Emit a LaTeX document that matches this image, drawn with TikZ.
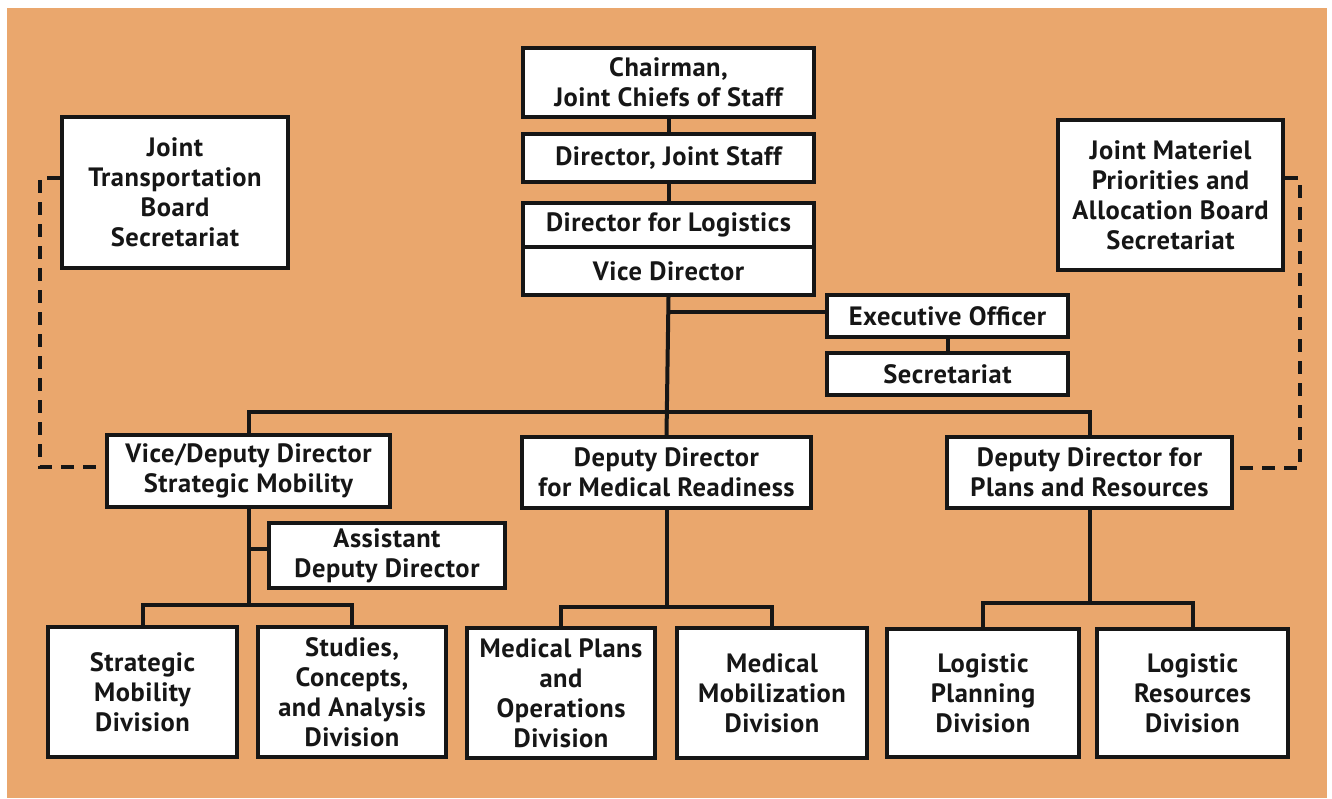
\documentclass[tikz,border=0pt]{standalone}
\usepackage{fontspec}
\setmainfont{PT Sans}[LetterSpace=2]
\usetikzlibrary{calc}
\definecolor{paper}{RGB}{234,167,109}
\definecolor{ink}{RGB}{22,22,22}
\begin{document}
\begin{tikzpicture}[x=1pt,y=-1pt,
  unit/.style={draw=ink, fill=white, line width=3.4pt, rectangle, inner sep=0pt,
    align=center, text=ink, font=\bfseries\fontsize{26.5}{30}\selectfont},
  link/.style={draw=ink, line width=4pt},
  dotted link/.style={draw=ink, line width=3.8pt, dash pattern=on 13pt off 9pt}]
% sheet and tinted panel
\fill[white] (0,0) rectangle (1332,798);
\fill[paper] (7,8) rectangle (1327,798);
\useasboundingbox (0,0) rectangle (1332,798);

% top of the chain
\node[unit, minimum width=291pt, minimum height=69pt] (chair) at (668.5,82.5) {Chairman,\\Joint Chiefs of Staff};
\node[unit, minimum width=291pt, minimum height=48pt] (djs) at (668.5,158) {Director, Joint Staff};
\node[unit, minimum width=291pt, minimum height=44pt] (dl) at (668.5,225) {Director for Logistics};
\node[unit, minimum width=291pt, minimum height=48pt] (vd) at (668.5,271) {Vice Director};

% staff offices
\node[unit, minimum width=241pt, minimum height=42pt] (exec) at (947.5,316) {Executive Officer};
\node[unit, minimum width=241pt, minimum height=42pt] (sec) at (947.5,374) {Secretariat};

% boards
\node[unit, minimum width=226pt, minimum height=151pt] (jtb) at (175,192.5) {Joint\\Transportation\\Board\\Secretariat};
\node[unit, minimum width=225pt, minimum height=150pt] (jmp) at (1170.5,195) {Joint Materiel\\Priorities and\\Allocation Board\\Secretariat};

% deputy directors
\node[unit, minimum width=283pt, minimum height=72pt] (vdsm) at (248.5,471) {Vice/Deputy Director\\Strategic Mobility};
\node[unit, minimum width=289pt, minimum height=71pt] (ddmr) at (666.5,472.5) {Deputy Director\\for Medical Readiness};
\node[unit, minimum width=285pt, minimum height=71pt] (ddpr) at (1089.5,472.5) {Deputy Director for\\Plans and Resources};
\node[unit, minimum width=236pt, minimum height=65pt] (add) at (387,555.5) {Assistant\\Deputy Director};

% divisions
\node[unit, minimum width=189pt, minimum height=130pt] (smd) at (142.5,692) {Strategic\\Mobility\\Division};
\node[unit, minimum width=188pt, minimum height=130pt] (sca) at (352,692) {Studies,\\Concepts,\\and Analysis\\Division};
\node[unit, minimum width=188pt, minimum height=130pt] (mpo) at (561,693) {Medical Plans\\and\\Operations\\Division};
\node[unit, minimum width=190pt, minimum height=130pt] (mmd) at (772,693) {Medical\\Mobilization\\Division};
\node[unit, minimum width=192pt, minimum height=128pt] (lpd) at (983,693) {Logistic\\Planning\\Division};
\node[unit, minimum width=191pt, minimum height=128pt] (lrd) at (1192.5,693) {Logistic\\Resources\\Division};

% command line
\draw[link] (chair.south) -- (djs.north);
\draw[link] (djs.south) -- (dl.north);
\draw[link] (vd.south) -- (ddmr.north);
\draw[link] (vd.south |- 0,312) -- (exec.west |- 0,312);
\draw[link] (exec.south) -- (sec.north);
\draw[link] (vdsm.north) |- (0,412 -| ddmr.north) -| (ddpr.north);

% strategic mobility branch
\draw[link] (vdsm.south) -- (vdsm.south |- 0,605);
\draw[link] (vdsm.south |- add.west) ++(0,-7) -- ([yshift=7pt]add.west);
\draw[link] (smd.north) |- (vdsm.south |- 0,605) -| (sca.north);

% medical branch
\draw[link] (ddmr.south) -- (ddmr.south |- 0,607);
\draw[link] (mpo.north) |- (ddmr.south |- 0,607) -| (mmd.north);

% plans and resources branch
\draw[link] (ddpr.south) -- (ddpr.south |- 0,603);
\draw[link] (lpd.north) |- (ddpr.south |- 0,603) -| (lrd.north);

% board liaison
\draw[dotted link] ([yshift=14.5pt]jtb.west) -- ++(-20,0) |- ([yshift=4pt]vdsm.west);
\draw[dotted link] ([yshift=17pt]jmp.east) -- ++(15,0) |- ([yshift=4.5pt]ddpr.east);
\end{tikzpicture}
\end{document}
